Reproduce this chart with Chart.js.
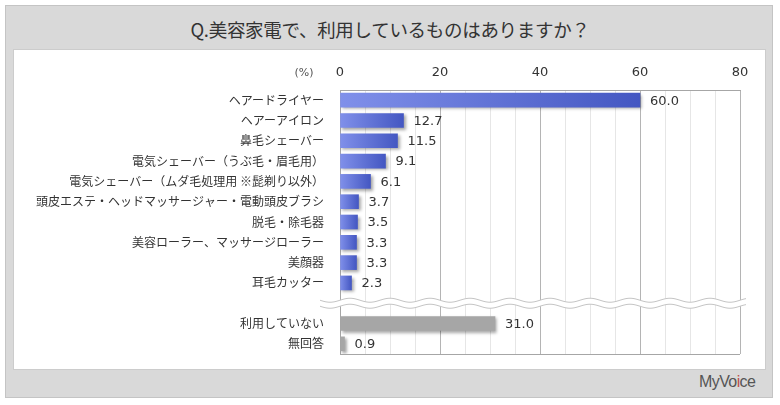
<!DOCTYPE html>
<html lang="ja">

<head>
    <meta charset="UTF-8">
    <title>美容家電の利用</title>
    <script src="https://cdn.jsdelivr.net/npm/chart.js@4.4.0/dist/chart.umd.min.js"></script>
    <style>
        body { margin: 0; background: #fff; width: 780px; height: 405px; position: relative; overflow: hidden; }
        #frame { position: absolute; left: 5px; top: 5px; width: 766px; height: 391px; background: #d9d9d9; border: 1px solid #c4c4c4; }
        #title { position: absolute; left: 0; top: 17px; width: 780px; text-align: center; font: 18.5px "Noto Sans CJK JP", sans-serif; color: #333; line-height: 24px; letter-spacing: -0.3px; }
        #panel { position: absolute; left: 13px; top: 49px; width: 751px; height: 319px; background: #fff; border: 1px solid #cccccc; }
        #logo { position: absolute; left: 699px; top: 373px; font: 16px "Liberation Sans", sans-serif; color: #555; letter-spacing: -0.6px; }
        #logo span { color: #c0504d; }
    </style>
</head>

<body>
    <div id="frame"></div>
    <div id="title">Q.美容家電で、利用しているものはありますか？</div>
    <div id="panel"><canvas id="myChart" width="751" height="319"></canvas></div>
    <div id="logo">MyVo<span>i</span>ce</div>

    <script>
        // Items (blue bars), then the "other" answers below the break (gray bars).
        var itemLabels = ["ヘアードライヤー", "ヘアーアイロン", "鼻毛シェーバー", "電気シェーバー（うぶ毛・眉毛用）",
            "電気シェーバー（ムダ毛処理用 ※髭剃り以外）", "頭皮エステ・ヘッドマッサージャー・電動頭皮ブラシ",
            "脱毛・除毛器", "美容ローラー、マッサージローラー", "美顔器", "耳毛カッター"];
        var itemValues = [60.0, 12.7, 11.5, 9.1, 6.1, 3.7, 3.5, 3.3, 3.3, 2.3];
        var otherLabels = ["利用していない", "無回答"];
        var otherValues = [31.0, 0.9];
        var xTicks = [0, 20, 40, 60, 80];

        // One empty row sits between the two groups, where the break line goes.
        var gapIndex = itemLabels.length;
        var labels = itemLabels.concat([""], otherLabels);
        var values = itemValues.concat([null], otherValues);

        // Horizontal gradient for each blue bar, plain gray for the others.
        function barFill(context) {
            var chart = context.chart;
            var i = context.dataIndex;
            if (i > gapIndex) return "#a6a6a6";
            if (!chart.chartArea || values[i] === null || !chart.scales.x) return "#5a6cd8";
            var x = chart.scales.x;
            var x0 = x.getPixelForValue(0);
            var x1 = x.getPixelForValue(values[i]);
            if (!isFinite(x0) || !isFinite(x1) || x1 <= x0) return "#5a6cd8";
            var g = chart.ctx.createLinearGradient(x0, 0, x1, 0);
            g.addColorStop(0, "#8090ea");
            g.addColorStop(1, "#4457c2");
            return g;
        }

        // Drop shadow under the bars.
        var shadowPlugin = {
            id: "shadow",
            beforeDatasetsDraw: function (chart) {
                var ctx = chart.ctx;
                ctx.save();
                ctx.shadowColor = "rgba(0,0,0,0.35)";
                ctx.shadowBlur = 3;
                ctx.shadowOffsetX = 2;
                ctx.shadowOffsetY = 2;
            },
            afterDatasetsDraw: function (chart) {
                chart.ctx.restore();
            }
        };

        // Value labels, bottom border, "(%)" and the wavy break.
        var extrasPlugin = {
            id: "extras",
            afterDraw: function (chart) {
                var ctx = chart.ctx;
                var area = chart.chartArea;
                var meta = chart.getDatasetMeta(0);

                ctx.save();
                ctx.font = "13px 'DejaVu Sans', sans-serif";
                ctx.fillStyle = "#333";
                ctx.textBaseline = "middle";
                ctx.textAlign = "left";
                meta.data.forEach(function (bar, i) {
                    if (values[i] === null) return;
                    ctx.fillText(values[i].toFixed(1), bar.x + 10, bar.y + 1);
                });

                ctx.strokeStyle = "#a6a6a6";
                ctx.lineWidth = 1;
                ctx.beginPath();
                ctx.moveTo(area.left, area.bottom + 0.5);
                ctx.lineTo(area.right, area.bottom + 0.5);
                ctx.stroke();

                ctx.font = "11px 'DejaVu Sans', sans-serif";
                ctx.fillStyle = "#555";
                ctx.textAlign = "center";
                ctx.fillText("(%)", area.left - 36, 23);

                // wavy break across the empty row
                var yc = chart.scales.y.getPixelForValue(gapIndex);
                var xs = area.left - 20, xe = area.right + 6;
                var amp = 2, period = 40, half = 3;
                function wave(x) { return amp * Math.sin((x - xs) / period * 2 * Math.PI); }
                ctx.beginPath();
                for (var x = xs; x <= xe; x++) ctx.lineTo(x, yc - half + wave(x));
                for (var x2 = xe; x2 >= xs; x2--) ctx.lineTo(x2, yc + half + wave(x2));
                ctx.closePath();
                ctx.fillStyle = "#fff";
                ctx.fill();
                ctx.strokeStyle = "#c4c4c4";
                ctx.beginPath();
                for (var x3 = xs; x3 <= xe; x3++) ctx.lineTo(x3, yc - half + wave(x3));
                ctx.stroke();
                ctx.beginPath();
                for (var x4 = xs; x4 <= xe; x4++) ctx.lineTo(x4, yc + half + wave(x4));
                ctx.stroke();
                ctx.restore();
            }
        };

        var chart = new Chart(document.getElementById("myChart"), {
            type: "bar",
            data: {
                labels: labels,
                datasets: [{
                    data: values,
                    backgroundColor: barFill,
                    barThickness: 14
                }]
            },
            options: {
                indexAxis: "y",
                responsive: false,
                animation: false,
                layout: { padding: { left: 0, right: 25, top: 0, bottom: 15 } },
                plugins: {
                    legend: { display: false },
                    tooltip: { enabled: false }
                },
                scales: {
                    x: {
                        position: "top",
                        min: xTicks[0],
                        max: xTicks[xTicks.length - 1],
                        afterFit: function (scale) { scale.height = 40; },
                        border: { display: true, color: "#a6a6a6" },
                        grid: {
                            drawTicks: false,
                            color: function (c) {
                                return xTicks.indexOf(c.tick.value) >= 0 ? "#b4b4b4" : "#e6e6e6";
                            }
                        },
                        ticks: {
                            stepSize: 5,
                            autoSkip: false,
                            padding: 10,
                            color: "#333",
                            font: { family: "'DejaVu Sans', sans-serif", size: 13 },
                            callback: function (v) { return xTicks.indexOf(v) >= 0 ? v : ""; }
                        }
                    },
                    y: {
                        afterFit: function (scale) {
                            scale.width = 326;
                            scale.paddingTop = 0;
                            scale.paddingBottom = 0;
                        },
                        border: { display: true, color: "#a6a6a6" },
                        grid: { display: false, drawTicks: false },
                        ticks: {
                            autoSkip: false,
                            padding: 16,
                            color: "#333",
                            font: { family: "'Noto Sans CJK JP', sans-serif", size: 12 }
                        }
                    }
                }
            },
            plugins: [shadowPlugin, extrasPlugin]
        });
    </script>
</body>

</html>
